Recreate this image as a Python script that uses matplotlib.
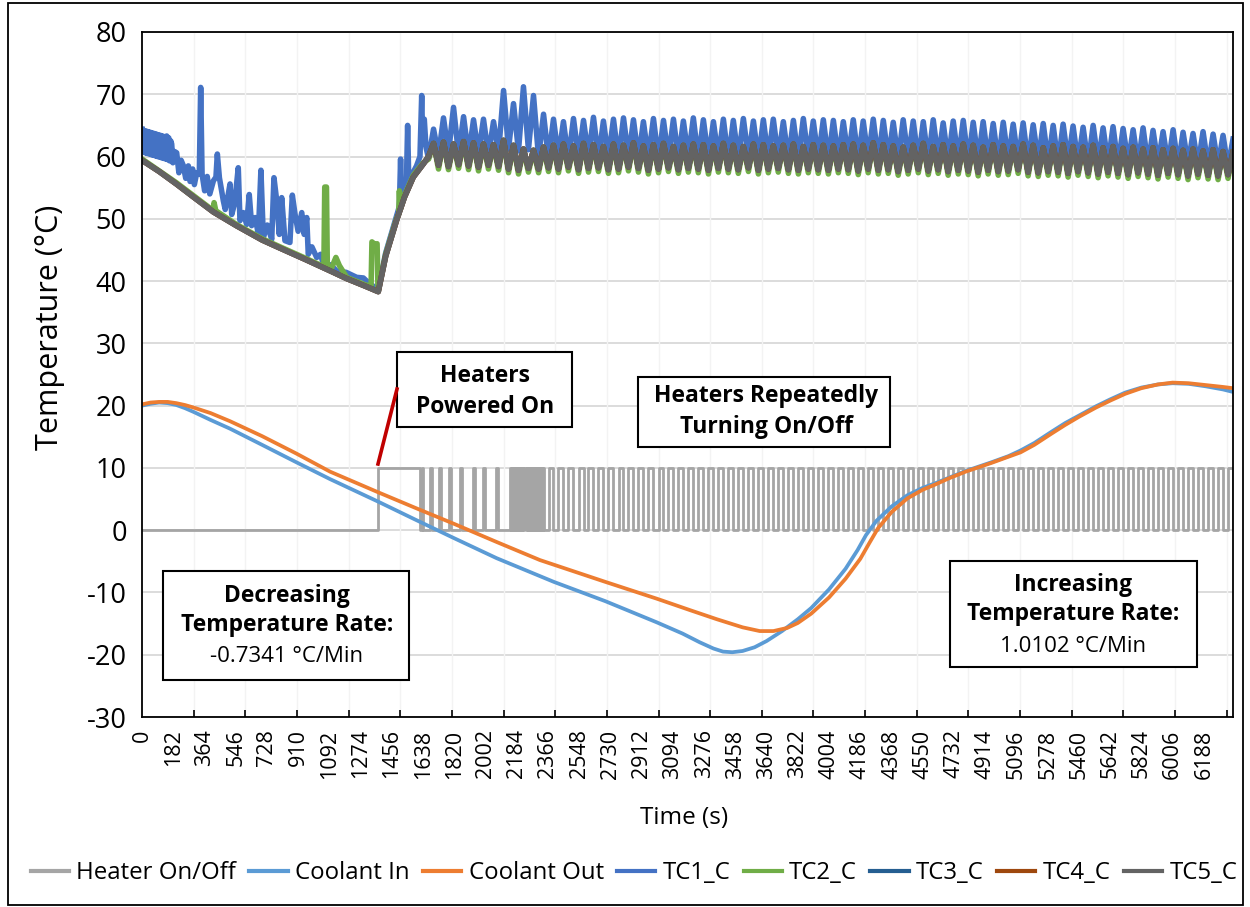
import matplotlib
matplotlib.use("Agg")
import matplotlib.pyplot as plt
from matplotlib.patches import Rectangle
from matplotlib.lines import Line2D

W, H = 1250, 907
plt.rcParams['font.family'] = ['Open Sans', 'DejaVu Sans']
plt.rcParams['axes.unicode_minus'] = False

# ---------------- data ----------------
x_tick_labels = [0, 182, 364, 546, 728, 910, 1092, 1274, 1456, 1638, 1820, 2002, 2184, 2366,
                 2548, 2730, 2912, 3094, 3276, 3458, 3640, 3822, 4004, 4186, 4368, 4550, 4732,
                 4914, 5096, 5278, 5460, 5642, 5824, 6006, 6188]
y_ticks = [-30, -20, -10, 0, 10, 20, 30, 40, 50, 60, 70, 80]
tick_marks = [301, 602, 903, 1204, 1505, 1806, 2107, 2408, 2709, 3010, 3311, 3612, 3913,
              4214, 4515, 4816, 5117, 5418, 5719, 6020, 6321]
t_end = 6358

# Coolant In / Out (time s, temperature C)
ci_t = [0, 50, 100, 150, 200, 250, 300, 400, 513, 700, 900, 1096, 1375, 1600, 1820, 2067,
        2400, 2700, 3000, 3150, 3250, 3330, 3386, 3440, 3500, 3570, 3640, 3730, 3822, 3900,
        4004, 4100, 4170, 4219, 4280, 4368, 4460, 4550, 4620, 4700, 4800, 4950, 5050, 5120,
        5200, 5300, 5380, 5460, 5560, 5642, 5730, 5824, 5920, 6006, 6100, 6200, 6300, 6358]
ci_v = [20.0, 20.3, 20.5, 20.4, 20.1, 19.6, 19.0, 17.7, 16.3, 13.7, 10.9, 8.2, 4.6, 1.6,
        -1.3, -4.5, -8.3, -11.4, -14.8, -16.6, -18.0, -19.0, -19.5, -19.6, -19.4, -18.8,
        -17.8, -16.2, -14.3, -12.5, -9.5, -6.2, -3.2, -0.8, 1.5, 3.8, 5.6, 6.8, 7.5, 8.4,
        9.5, 10.9, 11.9, 12.8, 14.0, 15.8, 17.2, 18.4, 19.9, 21.0, 22.1, 22.9, 23.4, 23.6,
        23.5, 23.1, 22.6, 22.2]
co_t = [0, 50, 100, 150, 200, 250, 300, 400, 513, 700, 900, 1096, 1375, 1600, 1820, 2067,
        2319, 2700, 3000, 3200, 3350, 3500, 3600, 3680, 3760, 3822, 3900, 4004, 4100, 4186,
        4240, 4289, 4368, 4460, 4550, 4620, 4700, 4800, 4950, 5050, 5120, 5200, 5300, 5380,
        5460, 5560, 5642, 5730, 5824, 5920, 6006, 6100, 6200, 6300, 6358]
co_v = [20.2, 20.5, 20.6, 20.6, 20.4, 20.1, 19.7, 18.8, 17.5, 15.1, 12.3, 9.4, 6.1, 3.5,
        1.0, -1.9, -4.8, -8.3, -11.0, -12.9, -14.3, -15.6, -16.2, -16.2, -15.7, -14.9,
        -13.4, -10.8, -7.8, -4.6, -2.0, 0.3, 2.9, 5.1, 6.5, 7.3, 8.3, 9.4, 10.8, 11.8, 12.5,
        13.7, 15.5, 16.9, 18.2, 19.7, 20.8, 21.9, 22.8, 23.4, 23.7, 23.6, 23.3, 23.0, 22.8]

# Heater switching times (s) before the regular cycling
heater_on_early = [1375, 1630, 1678, 1733, 1791, 1853, 1927, 1985, 2063,
                   2145, 2157, 2169, 2181, 2193, 2205, 2217, 2229, 2241, 2253, 2265,
                   2277, 2289, 2301, 2313, 2325, 2337]
heater_off_early = [1618, 1640, 1690, 1745, 1803, 1865, 1939, 1997, 2075,
                    2151, 2163, 2175, 2187, 2199, 2211, 2223, 2235, 2247, 2259, 2271,
                    2283, 2295, 2307, 2319, 2331, 2343]
heater_level = 10

# Thermocouple oscillation cycles: start (trough) times
cyc_t = [1670, 1728, 1786, 1845, 1903, 1961, 2019, 2078, 2136, 2194, 2252, 2311, 2369, 2427,
         2485, 2544, 2602, 2660, 2718, 2777, 2835, 2893, 2951, 3010, 3068, 3126, 3184, 3242,
         3301, 3359, 3417, 3475, 3534, 3592, 3650, 3708, 3767, 3825, 3883, 3941, 4000, 4058,
         4116, 4174, 4232, 4291, 4349, 4407, 4465, 4524, 4582, 4640, 4698, 4757, 4815, 4873,
         4931, 4990, 5048, 5106, 5164, 5223, 5281, 5339, 5397, 5455, 5514, 5572, 5630, 5688,
         5747, 5805, 5863, 5921, 5980, 6038, 6096, 6154, 6213, 6271, 6329]

# TC1 (blue)
tc1_pre_t = [0, 6, 12, 18, 24, 30, 36, 42, 48, 54, 60, 66, 72, 78, 84, 90, 96, 102, 108,
             114, 120, 126, 132, 138, 144, 150, 156, 162, 168, 173, 180, 190, 202, 215, 228,
             240, 255, 270, 280, 295, 305, 319, 334, 342, 350, 365, 380, 395, 416, 431, 439,
             451, 474, 485, 497, 513, 523, 540, 561, 571, 590, 610, 625, 639, 660, 678, 693,
             707, 730, 756, 769, 785, 800, 814, 833, 862, 876, 892, 910, 931, 945, 960, 969,
             990, 1018, 1041, 1057, 1100, 1135, 1190, 1251, 1290, 1329, 1377, 1420, 1484, 1500,
             1507, 1512, 1540, 1548, 1555, 1581, 1600, 1620, 1630, 1636, 1645, 1655]
tc1_pre_v = [64.4, 60.8, 64.2, 60.6, 64.1, 60.5, 64.0, 60.4, 63.9, 60.3, 63.8, 60.2, 63.7,
             60.1, 63.6, 60.0, 63.5, 59.9, 63.4, 59.8, 63.3, 59.7, 63.2, 59.6, 63.3, 59.5, 63.0,
             59.3, 62.5, 62.0, 59.0, 60.8, 60.6, 57.4, 59.4, 58.6, 56.5, 58.5, 56.0, 58.0,
             55.5, 57.4, 57.2, 71.1, 57.2, 54.5, 56.8, 54.0, 56.1, 56.7, 60.4, 56.6, 52.9,
             51.5, 53.0, 55.6, 50.7, 52.5, 58.2, 49.7, 51.0, 49.1, 53.9, 48.9, 50.2, 47.5,
             57.8, 47.0, 49.0, 46.7, 56.6, 52.9, 47.5, 53.4, 46.5, 46.2, 53.8, 50.7, 48.0,
             51.0, 47.5, 50.2, 44.3, 45.5, 43.8, 44.3, 42.7, 42.6, 41.6, 41.4, 40.6, 40.5,
             39.5, 38.7, 44.5, 50.5, 52.0, 59.6, 52.8, 54.5, 65.0, 55.5, 57.5, 58.5, 60.0,
             69.8, 62.0, 66.0, 61.5]
tc1_pk = [64.4, 66.2, 67.9, 66.4, 65.9, 66.0, 65.6, 70.6, 68.5, 71.2, 69.8, 66.8,
          66.0, 65.6, 66.1, 65.8, 66.3, 65.7, 66.0, 66.2, 65.9, 65.6, 66.1, 65.8, 66.0, 65.7,
          66.2, 65.9, 65.6, 66.0, 65.8, 66.1, 65.7, 65.9, 66.0, 65.6, 65.8, 66.1, 65.7, 65.9,
          65.8, 65.6, 65.9, 65.7, 66.0, 65.8, 65.5, 65.9, 65.7, 65.6, 65.9, 65.4, 65.7, 65.8,
          65.5, 65.6, 65.3, 65.5, 65.2, 65.4, 65.1, 65.3, 65.0, 65.2, 64.9, 64.7, 65.0, 64.6,
          64.8, 64.5, 64.3, 64.6, 64.2, 64.0, 64.3, 63.9, 63.7, 64.0, 63.6, 63.4, 62.8]
tc1_tr = [59.7, 60.2, 60.5, 60.3, 60.1, 60.4, 60.2, 60.7, 61.2, 60.9, 61.1, 59.9,
          59.6, 59.8, 59.5, 59.7, 59.9, 59.6, 59.7, 59.5, 59.8, 59.6,
          59.7, 59.4, 59.7, 59.6, 59.8, 59.5, 59.6, 59.7, 59.4, 59.6,
          59.7, 59.5, 59.6, 59.7, 59.4, 59.5, 59.7, 59.6, 59.4, 59.5,
          59.7, 59.4, 59.6, 59.3, 59.5, 59.4, 59.6, 59.3, 59.2, 59.5,
          59.3, 59.4, 59.1, 59.3, 59.2, 59.0, 59.3, 59.1, 58.9, 59.2,
          59.0, 58.8, 59.1, 58.9, 58.7, 59.0, 58.8, 58.6, 58.9, 58.7,
          58.5, 58.8, 58.6, 58.4, 58.7, 58.5, 58.3, 58.5, 58.2]

# TC5 (grey) - TC3 and TC4 read identical to it (hidden underneath)
tc5_pre_t = [0, 100, 200, 300, 416, 550, 700, 804, 950, 1100, 1193, 1300, 1377, 1420, 1484,
             1530, 1581, 1639]
tc5_pre_v = [59.4, 57.6, 55.6, 53.5, 51.1, 48.9, 46.6, 45.3, 43.5, 41.6, 40.4, 39.2, 38.3,
             44.0, 49.8, 53.5, 56.7, 58.8]
tc5_pk = [62.1, 62.3, 62.0, 62.4, 62.2, 62.0, 61.9, 62.6, 61.8, 61.2, 61.0, 61.5,
          61.8, 62.0, 61.7, 62.1, 61.9, 61.6, 62.0, 61.8, 62.2, 61.7, 61.9, 62.1, 61.6, 61.8,
          62.0, 61.9, 61.7, 62.1, 61.8, 61.6, 62.0, 61.9, 61.7, 61.8, 62.0, 61.6, 61.9, 61.8,
          61.7, 61.9, 62.0, 61.8, 62.2, 61.9, 61.7, 61.5, 61.8, 62.1, 61.6, 61.9, 61.7, 62.0,
          61.8, 61.5, 61.9, 61.7, 61.6, 62.0, 61.8, 61.4, 61.7, 61.9, 61.6, 61.5, 61.8, 61.4,
          61.6, 61.3, 61.5, 61.2, 61.4, 61.1, 61.3, 61.0, 61.2, 60.9, 61.1, 60.8, 60.7]
tc5_tr = [60.0, 58.6, 58.4, 58.7, 58.5, 58.3, 58.6, 58.4, 58.0, 57.8, 58.1, 58.0,
          58.2, 58.0, 58.3, 57.9, 58.1, 58.2, 57.9, 58.0, 58.3, 58.1, 57.8, 58.0, 58.2, 57.9,
          58.1, 58.0, 57.8, 58.1, 58.0, 57.9, 58.2, 57.8, 58.0, 58.1, 57.9, 57.8, 58.0, 57.9,
          57.8, 58.0, 57.9, 57.7, 58.0, 57.8, 57.9, 57.6, 57.8, 58.0, 57.7, 57.9, 57.6, 57.8,
          57.7, 57.5, 57.8, 57.6, 57.7, 57.9, 57.5, 57.4, 57.6, 57.5, 57.3, 57.6, 57.4, 57.2,
          57.5, 57.3, 57.1, 57.4, 57.2, 57.0, 57.3, 57.1, 56.9, 57.2, 57.0, 56.9, 57.1]

# TC2 (green)
tc2_pre_t = [0, 200, 416, 420, 430, 550, 700, 804, 950, 1060, 1065, 1075, 1080, 1100, 1130,
             1150, 1193, 1300, 1335, 1340, 1360, 1370, 1375, 1377, 1420, 1484, 1496, 1500,
             1505, 1530, 1581, 1639]
tc2_pre_v = [59.6, 55.8, 51.3, 52.6, 51.3, 49.1, 46.8, 45.5, 43.7, 42.3, 55.1, 55.1, 42.3,
             41.8, 43.8, 42.5, 40.6, 39.4, 39.2, 46.3, 45.8, 46.0, 39.0, 38.5, 44.3, 50.1,
             50.8, 54.5, 51.5, 53.8, 57.0, 59.0]
tc2_pk = tc5_pk
tc2_tr = [59.6, 58.0, 57.9, 58.1, 57.9, 57.7, 58.0, 57.8, 57.4, 57.2, 57.5, 57.4,
          57.6, 57.4, 57.7, 57.3, 57.5, 57.6, 57.3, 57.4, 57.7, 57.5, 57.2, 57.4, 57.6, 57.3,
          57.5, 57.4, 57.2, 57.5, 57.4, 57.3, 57.6, 57.2, 57.4, 57.5, 57.3, 57.2, 57.4, 57.3,
          57.2, 57.4, 57.3, 57.1, 57.4, 57.2, 57.3, 57.0, 57.2, 57.4, 57.1, 57.3, 57.0, 57.2,
          57.1, 56.9, 57.2, 57.0, 57.1, 57.3, 56.9, 56.8, 57.0, 56.9, 56.7, 57.0, 56.8, 56.6,
          56.9, 56.7, 56.5, 56.8, 56.6, 56.4, 56.7, 56.5, 56.3, 56.6, 56.4, 56.3, 56.5]

legend_labels = ['Heater On/Off', 'Coolant In', 'Coolant Out', 'TC1_C', 'TC2_C', 'TC3_C',
                 'TC4_C', 'TC5_C']
colors = ['#A5A5A5', '#5B9BD5', '#ED7D31', '#4472C4', '#70AD47', '#255E91', '#9E480E',
          '#636363']


def tc_series(pre_t, pre_v, tr, pk):
    t, v = list(pre_t), list(pre_v)
    for i, ts in enumerate(cyc_t):
        nxt = cyc_t[i + 1] if i + 1 < len(cyc_t) else 2 * t_end - ts
        t += [ts, (ts + nxt) / 2]
        v += [tr[i], pk[i]]
    return t, v


def heater_series():
    ons = list(heater_on_early)
    offs = list(heater_off_early)
    for i, ts in enumerate(cyc_t):
        if ts > 2350:
            nxt = cyc_t[i + 1] if i + 1 < len(cyc_t) else 2 * t_end - ts
            ons.append(ts)
            offs.append((ts + nxt) / 2)
    t, v = [0], [0]
    for a, b in zip(ons, offs):
        t += [a, a, b, b]
        v += [0, heater_level, heater_level, 0]
    t.append(t_end)
    v.append(0)
    return t, v


# ---------------- figure ----------------
fig = plt.figure(figsize=(W / 100, H / 100), dpi=100)


def fx(x):
    return x / W


def fy(y):
    return 1 - y / H


ax = fig.add_axes([fx(142), fy(717), fx(1233) - fx(142), fy(32) - fy(717)])

for yt in y_ticks:
    ax.axhline(yt, color='#D9D9D9', lw=1.3, zorder=0)
for xt in tick_marks:
    ax.axvline(xt, color='#F3F3F3', lw=1.0, zorder=0)

ht, hv = heater_series()
ax.plot(ht, hv, color=colors[0], lw=2.0, zorder=2)
ax.plot(ci_t, ci_v, color=colors[1], lw=2.7, zorder=3, solid_capstyle='round',
        solid_joinstyle='round')
ax.plot(co_t, co_v, color=colors[2], lw=2.7, zorder=3, solid_capstyle='round',
        solid_joinstyle='round')

t1, v1 = tc_series(tc1_pre_t, tc1_pre_v, tc1_tr, tc1_pk)
t2, v2 = tc_series(tc2_pre_t, tc2_pre_v, tc2_tr, tc2_pk)
t5, v5 = tc_series(tc5_pre_t, tc5_pre_v, tc5_tr, tc5_pk)
tc_lw = 4.0
ax.plot(t1, v1, color=colors[3], lw=tc_lw, zorder=4)
ax.plot(t2, v2, color=colors[4], lw=tc_lw, zorder=4)
ax.plot(t5, v5, color=colors[5], lw=tc_lw, zorder=4)
ax.plot(t5, v5, color=colors[6], lw=tc_lw, zorder=4)
ax.plot(t5, v5, color=colors[7], lw=tc_lw, zorder=4)

ax.set_xlim(0, t_end)
ax.set_ylim(-30, 80)
ax.set_yticks(y_ticks)
ax.set_yticklabels([str(v) for v in y_ticks], fontsize=19.5)
ax.set_xticks(x_tick_labels)
ax.set_xticklabels([str(v) for v in x_tick_labels], rotation=90, fontsize=15.5)
ax.set_xticks(tick_marks, minor=True)
ax.tick_params(axis='x', which='major', length=0, pad=9)
ax.tick_params(axis='x', which='minor', direction='in', length=5, width=1.2)
ax.tick_params(axis='y', length=0, pad=11)
for s in ax.spines.values():
    s.set_linewidth(1.3)
    s.set_color('black')
    s.set_zorder(6)

fig.text(fx(50), fy(327), 'Temperature (°C)', rotation=90, ha='center', va='center',
         fontsize=22)
fig.text(fx(684), fy(818), 'Time (s)', ha='center', va='center', fontsize=17.5)

# annotation boxes
def box(x0, y0, x1, y1):
    r = Rectangle((fx(x0), fy(y1)), fx(x1) - fx(x0), fy(y0) - fy(y1), transform=fig.transFigure,
                  facecolor='white', edgecolor='black', lw=1.5, zorder=10)
    fig.patches.append(r)


bold_fs = 16.5
reg_fs = 16
box(397, 352, 572, 427)
fig.text(fx(485), fy(376), 'Heaters', ha='center', va='center', fontsize=bold_fs, weight='bold', zorder=11)
fig.text(fx(485), fy(407), 'Powered On', ha='center', va='center', fontsize=bold_fs, weight='bold', zorder=11)

box(638, 377, 890, 447)
fig.text(fx(766), fy(396), 'Heaters Repeatedly', ha='center', va='center', fontsize=bold_fs, weight='bold', zorder=11)
fig.text(fx(766), fy(427), 'Turning On/Off', ha='center', va='center', fontsize=bold_fs, weight='bold', zorder=11)

box(163, 571, 409, 680)
fig.text(fx(287), fy(596), 'Decreasing', ha='center', va='center', fontsize=bold_fs, weight='bold', zorder=11)
fig.text(fx(287), fy(625), 'Temperature Rate:', ha='center', va='center', fontsize=bold_fs, weight='bold', zorder=11)
fig.text(fx(287), fy(657), '-0.7341 °C/Min', ha='center', va='center', fontsize=reg_fs, zorder=11)

box(950, 561, 1197, 667)
fig.text(fx(1073), fy(585), 'Increasing', ha='center', va='center', fontsize=bold_fs, weight='bold', zorder=11)
fig.text(fx(1073), fy(614), 'Temperature Rate:', ha='center', va='center', fontsize=bold_fs, weight='bold', zorder=11)
fig.text(fx(1073), fy(646), '1.0102 °C/Min', ha='center', va='center', fontsize=reg_fs, zorder=11)

fig.add_artist(Line2D([fx(378), fx(397)], [fy(464), fy(389)], color='#C00000', lw=2.6, zorder=12))

# outer frame
fig.patches.append(Rectangle((fx(8), fy(905)), fx(1243) - fx(8), fy(3) - fy(905),
                             transform=fig.transFigure, fill=False, edgecolor='black', lw=1.3))

handles = [Line2D([], [], color=c, lw=3) for c in colors]
fig.legend(handles, legend_labels, loc='center', bbox_to_anchor=(fx(634), fy(873)), ncol=8,
           frameon=False, fontsize=17.3, handlelength=1.6, handletextpad=0.3,
           columnspacing=0.55)

fig.savefig('out.png', dpi=100)
